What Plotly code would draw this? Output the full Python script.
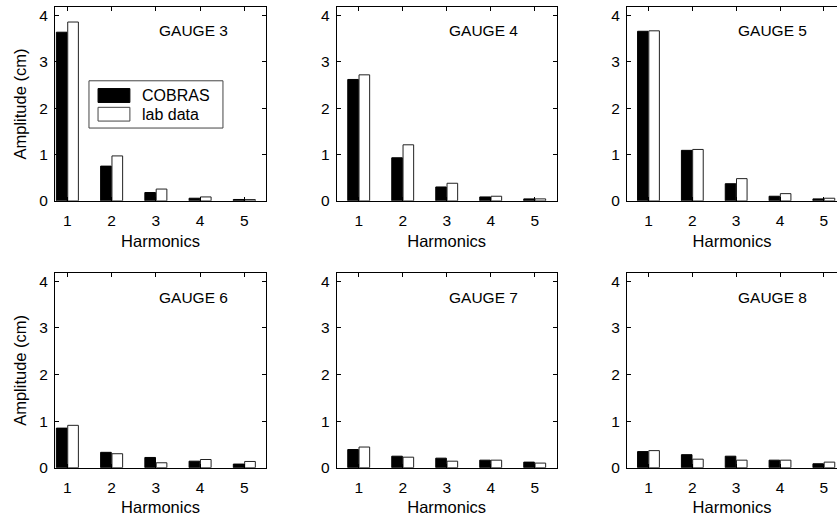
import plotly.graph_objects as go

harmonics = [1, 2, 3, 4, 5]
gauges = ["GAUGE 3", "GAUGE 4", "GAUGE 5", "GAUGE 6", "GAUGE 7", "GAUGE 8"]

cobras_g3 = [3.64, 0.75, 0.18, 0.057, 0.030]
lab_g3 = [3.86, 0.97, 0.255, 0.085, 0.028]
cobras_g4 = [2.62, 0.93, 0.30, 0.085, 0.043]
lab_g4 = [2.72, 1.21, 0.38, 0.10, 0.043]
cobras_g5 = [3.66, 1.09, 0.37, 0.10, 0.043]
lab_g5 = [3.67, 1.11, 0.48, 0.156, 0.057]
cobras_g6 = [0.85, 0.33, 0.22, 0.14, 0.078]
lab_g6 = [0.91, 0.30, 0.106, 0.176, 0.134]
cobras_g7 = [0.39, 0.247, 0.205, 0.162, 0.12]
lab_g7 = [0.444, 0.226, 0.14, 0.162, 0.099]
cobras_g8 = [0.346, 0.28, 0.247, 0.162, 0.085]
lab_g8 = [0.367, 0.183, 0.162, 0.162, 0.12]

cobras = [cobras_g3, cobras_g4, cobras_g5, cobras_g6, cobras_g7, cobras_g8]
lab = [lab_g3, lab_g4, lab_g5, lab_g6, lab_g7, lab_g8]

y_ticks = [0, 1, 2, 3, 4]
y_range = [0, 4.18]

W, H = 837, 521
FONT = "Liberation Sans, Arial, sans-serif"

# panel pixel geometry (left, right) per column and (top, bottom) per row
col_px = [(55, 266), (336.7, 556.7), (627, 837)]
row_px = [(7.3, 204), (277.3, 475)]
col_xrange = [[0.72, 5.49], [0.5, 5.5], [0.51, 5.30]]

fig = go.Figure()
layout = dict(
    width=W, height=H,
    margin=dict(l=0, r=0, t=0, b=0),
    paper_bgcolor="white", plot_bgcolor="white",
    barmode="group", bargap=0.487, bargroupgap=0.06,
    showlegend=False,
    font=dict(family=FONT, size=15, color="black"),
)

annotations = []
shapes = []
for i in range(6):
    r, c = divmod(i, 3)
    n = i + 1
    xa = "x" if n == 1 else f"x{n}"
    ya = "y" if n == 1 else f"y{n}"
    fig.add_trace(go.Bar(x=harmonics, y=cobras[i], name="COBRAS", xaxis=xa, yaxis=ya,
                         marker=dict(color="black", line=dict(color="black", width=1)),
                         offsetgroup="a"))
    fig.add_trace(go.Bar(x=harmonics, y=lab[i], name="lab data", xaxis=xa, yaxis=ya,
                         marker=dict(color="white", line=dict(color="#222", width=1)),
                         offsetgroup="b"))
    l, rr = col_px[c]
    t, b = row_px[r]
    xdom = [l / W, min(rr / W, 1.0)]
    ydom = [1 - b / H, 1 - t / H]
    xkey = "xaxis" if n == 1 else f"xaxis{n}"
    ykey = "yaxis" if n == 1 else f"yaxis{n}"
    layout[xkey] = dict(
        domain=xdom, anchor=ya, range=col_xrange[c], tickvals=harmonics,
        ticks="inside", ticklen=4, tickcolor="black", showline=True, linecolor="black",
        linewidth=1, mirror="ticks", showgrid=False, zeroline=False,
        title=dict(text="Harmonics", font=dict(size=16.5), standoff=6),
        tickfont=dict(size=15.5), ticklabelstandoff=6,
    )
    layout[ykey] = dict(
        domain=ydom, anchor=xa, range=y_range, tickvals=y_ticks,
        ticks="inside", ticklen=4, tickcolor="black", showline=True, linecolor="black",
        linewidth=1, mirror=("ticks" if c < 2 else False), showgrid=False, zeroline=False,
        tickfont=dict(size=15.5), ticklabelstandoff=3,
        title=dict(text="Amplitude (cm)" if c == 0 else "", font=dict(size=16.5), standoff=8),
    )
    annotations.append(dict(text=gauges[i], x=3.84, y=3.67 if r == 0 else 3.65,
                            xref=xa, yref=ya, showarrow=False,
                            font=dict(size=15.5), xanchor="center", yanchor="middle"))

# legend drawn inside first panel
shapes.append(dict(type="rect", xref="x domain", yref="y domain", x0=0.161, x1=0.796,
                   y0=0.376, y1=0.620, line=dict(color="#444", width=1), fillcolor="white"))
shapes.append(dict(type="rect", xref="x domain", yref="y domain", x0=0.204, x1=0.355,
                   y0=0.508, y1=0.580, line=dict(color="black", width=1), fillcolor="black"))
shapes.append(dict(type="rect", xref="x domain", yref="y domain", x0=0.204, x1=0.355,
                   y0=0.412, y1=0.483, line=dict(color="#444", width=1), fillcolor="white"))
annotations.append(dict(text="COBRAS", xref="x domain", yref="y domain", x=0.403, y=0.544,
                        showarrow=False, xanchor="left", yanchor="middle", font=dict(size=16)))
annotations.append(dict(text="lab data", xref="x domain", yref="y domain", x=0.403, y=0.447,
                        showarrow=False, xanchor="left", yanchor="middle", font=dict(size=16)))

layout["annotations"] = annotations
layout["shapes"] = shapes
fig.update_layout(**layout)
fig.write_html("out.html")
